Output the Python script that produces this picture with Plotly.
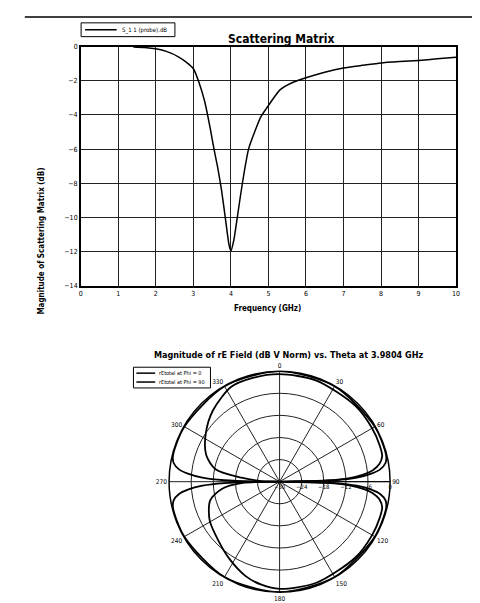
import plotly.graph_objects as go

# ---- Scattering matrix data ----
freq_ghz = [1.4, 1.7, 2.0, 2.3, 2.6, 2.8, 3.0, 3.15, 3.3, 3.45, 3.55, 3.65, 3.75, 3.85,
            3.95, 4.0, 4.08, 4.17, 4.25, 4.35, 4.47, 4.65, 4.8, 5.0, 5.3, 5.6, 6.0, 6.5,
            7.0, 7.5, 8.0, 8.5, 9.0, 9.5, 10.0]
s11_db = [-0.02, -0.05, -0.13, -0.3, -0.6, -0.9, -1.3, -2.1, -3.2, -4.8, -6.0, -7.1,
          -8.4, -10.0, -11.6, -11.95, -11.3, -10.0, -8.8, -7.4, -6.0, -4.9, -4.1, -3.45,
          -2.55, -2.15, -1.83, -1.5, -1.25, -1.1, -0.96, -0.88, -0.81, -0.72, -0.62]

x_ticks = [0, 1, 2, 3, 4, 5, 6, 7, 8, 9, 10]
y_ticks = [0, -2, -4, -6, -8, -10, -12, -14]

# ---- Radiation pattern data (theta in degrees, values in dB) ----
theta_phi0 = [0, 20, 45, 60, 70, 76, 80, 83, 85, 87, 88.5, 90, 91.5, 93, 95, 97, 100,
              104, 110, 120, 135, 160, 180, 190, 200, 213, 225, 241, 255, 263, 268, 270,
              272, 276, 281, 290, 303, 317, 333, 345, 360]
re_phi0 = [-0.8, -0.8, -0.9, -1.0, -1.1, -1.3, -2.5, -4.5, -7.0, -11.0, -17.0, -30.0,
           -17.0, -11.0, -7.0, -4.5, -2.5, -1.3, -1.1, -1.0, -0.9, -0.8, -0.9, -1.6,
           -2.8, -5.0, -6.8, -8.3, -10.5, -14.3, -20.0, -30.0, -25.0, -19.6, -12.3,
           -8.8, -6.1, -3.5, -1.1, -0.9, -0.8]

theta_phi90 = [0, 30, 60, 76, 80, 83, 85, 87, 88.5, 89.5, 90, 90.5, 91.5, 93, 95, 97,
               100, 104, 120, 150, 180, 210, 240, 256, 260, 263, 265, 267, 268.5, 269.5,
               270, 270.5, 271.5, 273, 275, 277, 280, 284, 300, 330, 360]
re_phi90 = [0.0, -0.1, -0.15, -0.2, -0.8, -2.5, -5.0, -9.0, -15.0, -24.0, -30.0, -24.0,
            -15.0, -9.0, -5.0, -2.5, -0.8, -0.2, -0.15, -0.1, 0.0, -0.1, -0.15, -0.2,
            -0.8, -2.5, -5.0, -9.0, -15.0, -24.0, -30.0, -24.0, -15.0, -9.0, -5.0, -2.5,
            -0.8, -0.2, -0.15, -0.1, 0.0]

r_ticks = [-30, -24, -18, -12, -6, 0]
theta_ticks = [0, 30, 60, 90, 120, 150, 180, 210, 240, 270, 300, 330]
theta_labels = ["0", "30", "60", "90", "120", "150", "180", "210", "240", "270", "300", "330"]

s11_name = "S_1 1 (probe).dB"
pattern_names = ["rEtotal at Phi = 0", "rEtotal at Phi = 90"]

FONT = "Liberation Sans Narrow, DejaVu Sans Condensed, Arial Narrow, sans-serif"
W, H = 480, 603

fig = go.Figure()

fig.add_trace(go.Scatter(
    x=freq_ghz, y=s11_db, mode="lines", name=s11_name,
    line=dict(color="black", width=1.5, shape="spline", smoothing=0.5)))

fig.add_trace(go.Scatterpolar(
    theta=theta_phi0, r=re_phi0, mode="lines", name=pattern_names[0],
    line=dict(color="black", width=1.8, shape="spline", smoothing=0.8),
    subplot="polar"))
fig.add_trace(go.Scatterpolar(
    theta=theta_phi90, r=re_phi90, mode="lines", name=pattern_names[1],
    line=dict(color="black", width=1.8, shape="spline", smoothing=0.8),
    subplot="polar"))

grid_col = "#222222"
tf = dict(size=7, color="black")

cx, cy, rad = 273, 476, 112

fig.update_layout(
    width=W, height=H,
    margin=dict(l=0, r=0, t=0, b=0),
    paper_bgcolor="white", plot_bgcolor="white",
    font=dict(family=FONT, color="black", size=8),
    showlegend=False,
    xaxis=dict(domain=[71.7 / W, 451.7 / W], range=[0, 10], tickvals=x_ticks,
               showgrid=True, gridcolor=grid_col, gridwidth=1,
               showline=True, linecolor="black", linewidth=1.5, mirror=True,
               zeroline=False, ticks="", tickfont=tf),
    yaxis=dict(domain=[1 - 277.6 / H, 1 - 35 / H], range=[-14, 0], tickvals=y_ticks,
               showgrid=True, gridcolor=grid_col, gridwidth=1,
               showline=True, linecolor="black", linewidth=1.5, mirror=True,
               zeroline=False, ticks="", tickfont=tf),
    polar=dict(
        domain=dict(x=[(cx - rad) / W, (cx + rad) / W],
                    y=[1 - (cy + rad) / H, 1 - (cy - rad) / H]),
        bgcolor="white",
        angularaxis=dict(rotation=90, direction="clockwise",
                         tickmode="array", tickvals=theta_ticks, ticktext=theta_labels,
                         showgrid=True, gridcolor=grid_col, gridwidth=1,
                         showline=True, linecolor="black", linewidth=1.5,
                         ticks="", tickfont=dict(size=6.5, color="black")),
        radialaxis=dict(range=[-30, 0], tickvals=r_ticks, angle=0,
                        showgrid=True, gridcolor=grid_col, gridwidth=1,
                        showline=True, linecolor="black", linewidth=1,
                        ticks="", tickfont=dict(size=6, color="black")),
    ),
)

# Titles
fig.add_annotation(text="<b>Scattering Matrix</b>", x=275 / W, y=1 - 18 / H,
                   xref="paper", yref="paper", showarrow=False,
                   font=dict(size=12, family=FONT))
fig.add_annotation(text="<b>Magnitude of Scattering Matrix (dB)</b>", x=25 / W,
                   y=1 - 156 / H, xref="paper", yref="paper", showarrow=False,
                   textangle=-90, font=dict(size=8, family=FONT))
fig.add_annotation(text="<b>Frequency (GHz)</b>", x=261 / W, y=1 - 300 / H,
                   xref="paper", yref="paper", showarrow=False,
                   font=dict(size=8, family=FONT))
fig.add_annotation(text="<b>Magnitude of rE Field (dB V Norm) vs. Theta at 3.9804 GHz</b>",
                   x=282 / W, y=1 - 348 / H, xref="paper", yref="paper", showarrow=False,
                   font=dict(size=9, family=FONT))

# Legend for S-parameter plot (drawn box)
fig.add_shape(type="rect", xref="paper", yref="paper", x0=72 / W, x1=167 / W,
              y0=1 - 25 / H, y1=1 - 11 / H, line=dict(color="black", width=1),
              fillcolor="white")
fig.add_shape(type="line", xref="paper", yref="paper", x0=76 / W, x1=108 / W,
              y0=1 - 18 / H, y1=1 - 18 / H, line=dict(color="black", width=1.5))
fig.add_annotation(text=s11_name, x=111 / W, y=1 - 18 / H, xref="paper", yref="paper",
                   xanchor="left", yanchor="middle", showarrow=False,
                   font=dict(size=6, family=FONT))

# Legend for polar plot (drawn box)
fig.add_shape(type="rect", xref="paper", yref="paper", x0=125 / W, x1=203 / W,
              y0=1 - 381 / H, y1=1 - 360 / H, line=dict(color="black", width=1),
              fillcolor="white")
for i, nm in enumerate(pattern_names):
    yy = 1 - (366 + i * 9) / H
    fig.add_shape(type="line", xref="paper", yref="paper", x0=128 / W, x1=147 / W,
                  y0=yy, y1=yy, line=dict(color="black", width=1.5))
    fig.add_annotation(text=nm, x=149 / W, y=yy, xref="paper", yref="paper",
                       xanchor="left", yanchor="middle", showarrow=False,
                       font=dict(size=5.5, family=FONT))

# scan edge line at top
fig.add_shape(type="line", xref="paper", yref="paper", x0=15 / W, x1=1,
              y0=1 - 5 / H, y1=1 - 5 / H, line=dict(color="black", width=1.5))

fig.write_html("out.html")
